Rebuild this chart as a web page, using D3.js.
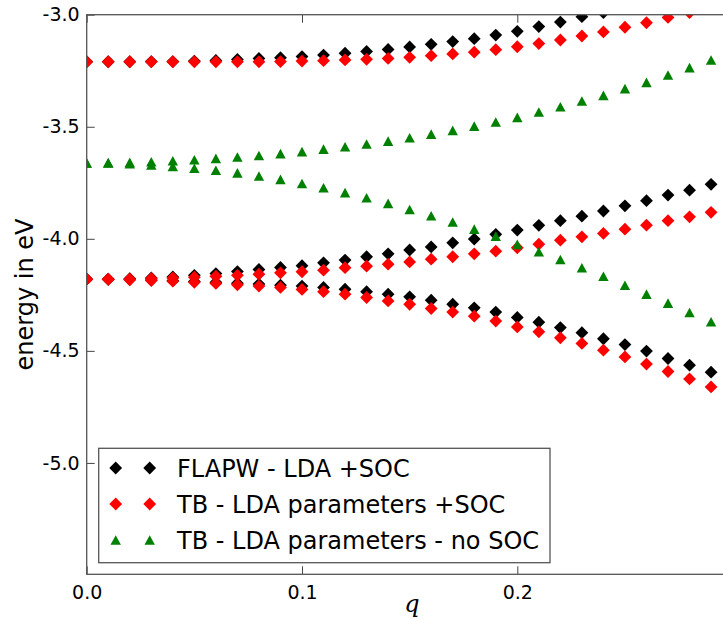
<!DOCTYPE html>
<html>
<head>
<meta charset="utf-8">
<script src="https://cdn.jsdelivr.net/npm/d3@7"></script>
<style>
  body { margin: 0; background: #fff; }
  svg { display: block; }
</style>
</head>
<body>
<script>
// q points along the path
var qs = [0.00, 0.01, 0.02, 0.03, 0.04, 0.05, 0.06, 0.07, 0.08, 0.09,
          0.10, 0.11, 0.12, 0.13, 0.14, 0.15, 0.16, 0.17, 0.18, 0.19,
          0.20, 0.21, 0.22, 0.23, 0.24, 0.25, 0.26, 0.27, 0.28, 0.29];

// FLAPW - LDA +SOC (black)
var flapwTop = [-3.210, -3.210, -3.210, -3.209, -3.209, -3.207, -3.204, -3.200, -3.195, -3.192,
                -3.187, -3.180, -3.172, -3.164, -3.155, -3.144, -3.132, -3.120, -3.107, -3.091,
                -3.074, -3.053, -3.033, -3.009, -2.991];
var flapwUp = [-4.180, -4.180, -4.178, -4.175, -4.170, -4.163, -4.155, -4.146, -4.137, -4.128,
               -4.120, -4.107, -4.095, -4.080, -4.067, -4.050, -4.036, -4.018, -4.001, -3.980,
               -3.961, -3.940, -3.919, -3.899, -3.876, -3.853, -3.830, -3.805, -3.783, -3.757];
var flapwDown = [-4.180, -4.181, -4.182, -4.184, -4.187, -4.190, -4.194, -4.198, -4.202, -4.207,
                 -4.211, -4.217, -4.225, -4.236, -4.247, -4.259, -4.274, -4.292, -4.308, -4.327,
                 -4.351, -4.372, -4.396, -4.419, -4.446, -4.472, -4.501, -4.534, -4.564, -4.595];

// TB - LDA parameters +SOC (red)
var tbTop = [-3.210, -3.210, -3.210, -3.210, -3.210, -3.210, -3.210, -3.210, -3.210, -3.209,
             -3.207, -3.205, -3.202, -3.199, -3.195, -3.190, -3.183, -3.175, -3.167, -3.156,
             -3.143, -3.129, -3.113, -3.095, -3.077, -3.056, -3.036, -3.012, -2.991];
var tbUp = [-4.180, -4.180, -4.179, -4.177, -4.175, -4.171, -4.167, -4.163, -4.158, -4.152,
            -4.147, -4.140, -4.129, -4.122, -4.113, -4.103, -4.091, -4.080, -4.067, -4.055,
            -4.040, -4.024, -4.006, -3.991, -3.976, -3.957, -3.939, -3.919, -3.902, -3.882];
var tbDown = [-4.180, -4.181, -4.183, -4.186, -4.189, -4.194, -4.199, -4.205, -4.211, -4.217,
              -4.226, -4.236, -4.247, -4.262, -4.277, -4.292, -4.311, -4.327, -4.345, -4.367,
              -4.393, -4.415, -4.442, -4.467, -4.497, -4.527, -4.559, -4.592, -4.625, -4.661];

// TB - LDA parameters - no SOC (green)
var noSocUp = [-3.661, -3.660, -3.659, -3.656, -3.652, -3.647, -3.641, -3.635, -3.628, -3.620,
               -3.611, -3.600, -3.589, -3.577, -3.564, -3.549, -3.533, -3.516, -3.497, -3.479,
               -3.458, -3.434, -3.411, -3.385, -3.360, -3.330, -3.302, -3.269, -3.236, -3.202];
var noSocDown = [-3.661, -3.662, -3.665, -3.670, -3.677, -3.685, -3.694, -3.706, -3.720, -3.735,
                 -3.753, -3.772, -3.794, -3.817, -3.842, -3.869, -3.897, -3.925, -3.957, -3.988,
                 -4.025, -4.058, -4.092, -4.129, -4.167, -4.207, -4.247, -4.287, -4.329, -4.370];

var xTicks = [0.0, 0.1, 0.2];
var yTicks = [-3.0, -3.5, -4.0, -4.5, -5.0];

var series = [
    {name: "FLAPW - LDA +SOC", color: "#000000", shape: "diamond", bands: [flapwTop, flapwUp, flapwDown]},
    {name: "TB - LDA parameters +SOC", color: "#ff0000", shape: "diamond", bands: [tbTop, tbUp, tbDown]},
    {name: "TB - LDA parameters - no SOC", color: "#008000", shape: "triangle", bands: [noSocUp, noSocDown]}
];

var width = 723, height = 619;
var pLeft = 86.7, pTop = 14.7, pRight = 732.6, pBottom = 574.3;

var svg = d3.select("body").append("svg")
    .attr("width", width)
    .attr("height", height);

var x = d3.scaleLinear().domain([0, 0.3]).range([pLeft, pRight]);
var y = d3.scaleLinear().domain([-3.0, -5.497]).range([pTop, pBottom]);

var diamond = d3.symbol().type(d3.symbolSquare).size(82)();
var triangle = "M0,-4.8L5.2,4.8L-5.2,4.8Z";
function shapePath(s) { return s === "diamond" ? diamond : triangle; }
function shapeRot(s) { return s === "diamond" ? " rotate(45)" : ""; }

svg.append("clipPath").attr("id", "plot-clip")
    .append("rect")
    .attr("x", pLeft).attr("y", pTop)
    .attr("width", pRight - pLeft).attr("height", pBottom - pTop);

// markers
var plot = svg.append("g").attr("clip-path", "url(#plot-clip)");
series.forEach(function (s) {
    var pts = [];
    s.bands.forEach(function (band) {
        band.forEach(function (v, i) { pts.push({q: qs[i], e: v}); });
    });
    plot.append("g")
        .selectAll("path")
        .data(pts)
        .enter()
            .append("path")
            .attr("d", shapePath(s.shape))
            .attr("transform", function (d) {
                return "translate(" + x(d.q) + "," + y(d.e) + ")" + shapeRot(s.shape);
            })
            .attr("fill", s.color);
});

// axes (ticks pointing inward, like matplotlib)
function styleAxis(g) {
    g.select(".domain").remove();
    g.selectAll(".tick line").attr("stroke", "#444").attr("stroke-width", 1);
    g.selectAll(".tick text")
        .attr("fill", "#000")
        .style("font-family", "DejaVu Sans, sans-serif")
        .style("font-size", "19px");
}
function fmt(v) { return v.toFixed(1); }

svg.append("g")
    .attr("transform", "translate(0," + pBottom + ")")
    .call(d3.axisBottom(x).tickValues(xTicks).tickFormat(fmt).tickSizeInner(-8).tickSizeOuter(0).tickPadding(11))
    .call(styleAxis);
svg.append("g")
    .attr("transform", "translate(0," + pTop + ")")
    .call(d3.axisTop(x).tickValues(xTicks).tickFormat("").tickSizeInner(-8).tickSizeOuter(0))
    .call(styleAxis);
svg.append("g")
    .attr("transform", "translate(" + pLeft + ",0)")
    .call(d3.axisLeft(y).tickValues(yTicks).tickFormat(fmt).tickSizeInner(-8).tickSizeOuter(0).tickPadding(7))
    .call(styleAxis);

// frame
svg.append("rect")
    .attr("x", pLeft).attr("y", pTop)
    .attr("width", pRight - pLeft).attr("height", pBottom - pTop)
    .attr("fill", "none")
    .attr("stroke", "#555")
    .attr("stroke-width", 1.3);

// axis labels
svg.append("text")
    .attr("transform", "translate(33," + ((pTop + pBottom) / 2) + ") rotate(-90)")
    .attr("text-anchor", "middle")
    .style("font-family", "DejaVu Sans, sans-serif")
    .style("font-size", "24px")
    .text("energy in eV");

svg.append("text")
    .attr("x", 412)
    .attr("y", 612)
    .attr("text-anchor", "middle")
    .style("font-family", "DejaVu Serif, serif")
    .style("font-style", "italic")
    .style("font-size", "24px")
    .text("q");

// legend
var legend = svg.append("g").attr("transform", "translate(98.7,448.3)");
legend.append("rect")
    .attr("width", 451.3).attr("height", 114.4)
    .attr("fill", "#fff")
    .attr("stroke", "#555")
    .attr("stroke-width", 1.3);

var rows = legend.selectAll("g.row")
    .data(series)
    .enter()
        .append("g")
        .attr("class", "row")
        .attr("transform", function (d, i) { return "translate(0," + (19.7 + i * 36) + ")"; });

[17, 51].forEach(function (mx) {
    rows.append("path")
        .attr("d", function (d) { return shapePath(d.shape); })
        .attr("transform", function (d) { return "translate(" + mx + ",0)" + shapeRot(d.shape); })
        .attr("fill", function (d) { return d.color; });
});

rows.append("text")
    .attr("x", 78.3)
    .attr("y", 8.5)
    .style("font-family", "DejaVu Sans, sans-serif")
    .style("font-size", "24px")
    .text(function (d) { return d.name; });
</script>
</body>
</html>
